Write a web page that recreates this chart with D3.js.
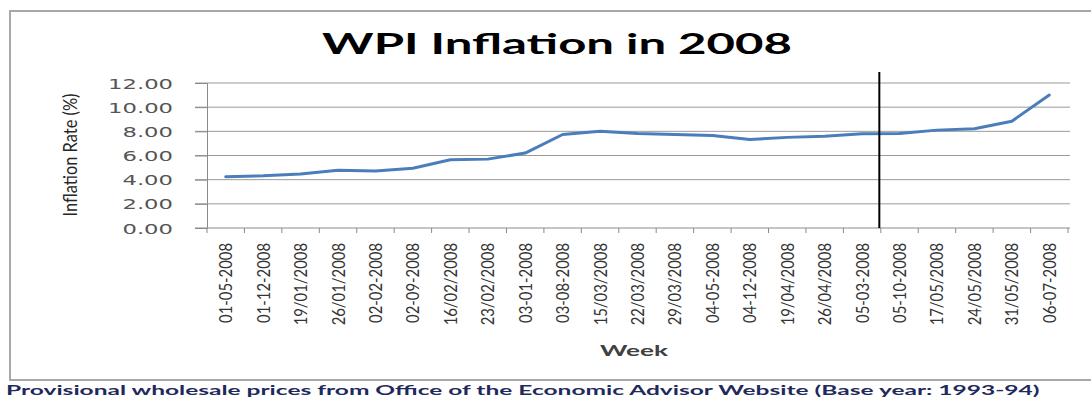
<!DOCTYPE html>
<html>
<head>
<meta charset="utf-8">
<script src="https://cdn.jsdelivr.net/npm/d3@7"></script>
<style>
  html, body { margin: 0; padding: 0; background: #ffffff; }
  svg { display: block; }
</style>
</head>
<body>
<svg id="chart" width="1091" height="400"></svg>
<script>
// ---- data ----
const weeks = ["01-05-2008","01-12-2008","19/01/2008","26/01/2008","02-02-2008","02-09-2008",
  "16/02/2008","23/02/2008","03-01-2008","03-08-2008","15/03/2008","22/03/2008","29/03/2008",
  "04-05-2008","04-12-2008","19/04/2008","26/04/2008","05-03-2008","05-10-2008","17/05/2008",
  "24/05/2008","31/05/2008","06-07-2008"];
const inflation = [4.24, 4.32, 4.47, 4.78, 4.71, 4.95, 5.65, 5.70, 6.20, 7.74, 8.00, 7.83, 7.74,
  7.66, 7.33, 7.50, 7.60, 7.80, 7.83, 8.10, 8.21, 8.84, 11.00];
const yTicks = [0, 2, 4, 6, 8, 10, 12];
const markerWeek = "05-10-2008";   // vertical marker drawn at the start of this week's band
const titleText = "WPI Inflation in 2008";
const yLabelText = "Inflation Rate (%)";
const xLabelText = "Week";
const footerText = "Provisional wholesale prices from Office of the Economic Advisor Website (Base year: 1993-94)";

// ---- layout ----
const plot = { left: 207, right: 1068, top: 83, bottom: 228 };
const svg = d3.select("#chart");

svg.append("rect").attr("width", 1091).attr("height", 400).attr("fill", "#ffffff");
// outer chart frame
svg.append("rect").attr("x", 10).attr("y", 11).attr("width", 1100).attr("height", 369)
  .attr("fill", "none").attr("stroke", "#a8a8a8").attr("stroke-width", 2);

const x = d3.scaleBand().domain(weeks).range([plot.left, plot.right]).padding(0);
const y = d3.scaleLinear().domain([0, 12]).range([plot.bottom, plot.top]);

// helper: draw text and squeeze/stretch it to a target length
function fitText(sel, target) {
  const len = sel.node().getComputedTextLength();
  return target / len;
}

// gridlines
svg.append("g").selectAll("line").data(yTicks.filter(d => d !== 0)).join("line")
  .attr("x1", plot.left - 12).attr("x2", plot.right + 2)
  .attr("y1", d => y(d)).attr("y2", d => y(d))
  .attr("stroke", "#9a9a9a").attr("stroke-width", 1);

// y axis
const yAxis = svg.append("g").attr("transform", `translate(${plot.left},0)`)
  .call(d3.axisLeft(y).tickValues(yTicks).tickSize(12).tickFormat(d3.format(".2f")));
yAxis.select(".domain").attr("stroke", "#8a8a8a");
yAxis.selectAll(".tick line").attr("stroke", "#8a8a8a");
yAxis.selectAll(".tick text")
  .attr("font-family", "DejaVu Sans").attr("font-size", 14).attr("fill", "#555555")
  .attr("x", 0).attr("dy", "0.36em").attr("text-anchor", "end");
{
  const t12 = yAxis.selectAll(".tick text").filter(d => d === 12);
  const sx = fitText(t12, 65);
  yAxis.selectAll(".tick text").attr("transform", `translate(-34,0) scale(${sx},1)`);
}

// x axis line and ticks at band boundaries
const xg = svg.append("g");
xg.append("line").attr("x1", plot.left - 12).attr("x2", plot.right + 2)
  .attr("y1", plot.bottom).attr("y2", plot.bottom).attr("stroke", "#8a8a8a");
const bounds = weeks.map(d => x(d)).concat([x.range()[1]]);
xg.selectAll("line.tk").data(bounds).join("line").attr("class", "tk")
  .attr("x1", d => d).attr("x2", d => d).attr("y1", plot.bottom).attr("y2", plot.bottom + 5)
  .attr("stroke", "#8a8a8a");

// x tick labels
const xl = xg.selectAll("text.xl").data(weeks).join("text").attr("class", "xl")
  .attr("font-family", "Lato").attr("font-size", 18).attr("fill", "#333333")
  .attr("text-anchor", "end").attr("dy", "0.36em")
  .text(d => d);
{
  const sx = fitText(xl.filter((d, i) => i === 0), 80);
  xl.attr("transform", d => `translate(${x(d) + x.bandwidth() / 2},243) rotate(-90) scale(${sx},1)`);
}

// data line
const line = d3.line().x((d, i) => x(weeks[i]) + x.bandwidth() / 2).y(d => y(d));
svg.append("path").datum(inflation).attr("d", line)
  .attr("fill", "none").attr("stroke", "#4a7ebb").attr("stroke-width", 3)
  .attr("stroke-linejoin", "round").attr("stroke-linecap", "round");

// vertical marker line
svg.append("line").attr("x1", x(markerWeek) - 1.5).attr("x2", x(markerWeek) - 1.5)
  .attr("y1", plot.top - 11).attr("y2", plot.bottom)
  .attr("stroke", "#000000").attr("stroke-width", 2);

// title
const title = svg.append("text").attr("font-family", "Lato").attr("font-weight", "bold")
  .attr("font-size", 29).attr("fill", "#000000").attr("text-anchor", "middle").text(titleText);
{
  const sx = fitText(title, 470);
  title.attr("transform", `translate(557,54) scale(${sx},1)`);
}

// y axis title
const yl = svg.append("text").attr("font-family", "Lato").attr("font-size", 20)
  .attr("fill", "#262626").attr("text-anchor", "middle").text(yLabelText);
{
  const sx = fitText(yl, 123);
  yl.attr("transform", `translate(77,155) rotate(-90) scale(${sx},1)`);
}

// x axis title
const xt = svg.append("text").attr("font-family", "Lato").attr("font-weight", "bold")
  .attr("font-size", 15).attr("fill", "#404040").attr("text-anchor", "start").text(xLabelText);
{
  const sx = fitText(xt, 68);
  xt.attr("transform", `translate(600,356) scale(${sx},1)`);
}

// footer
const ft = svg.append("text").attr("font-family", "Lato").attr("font-weight", "bold")
  .attr("font-size", 13.5).attr("fill", "#1f2a5c").attr("text-anchor", "start").text(footerText);
{
  const sx = fitText(ft, 1034);
  ft.attr("transform", `translate(6,395) scale(${sx},1)`);
}
</script>
</body>
</html>
